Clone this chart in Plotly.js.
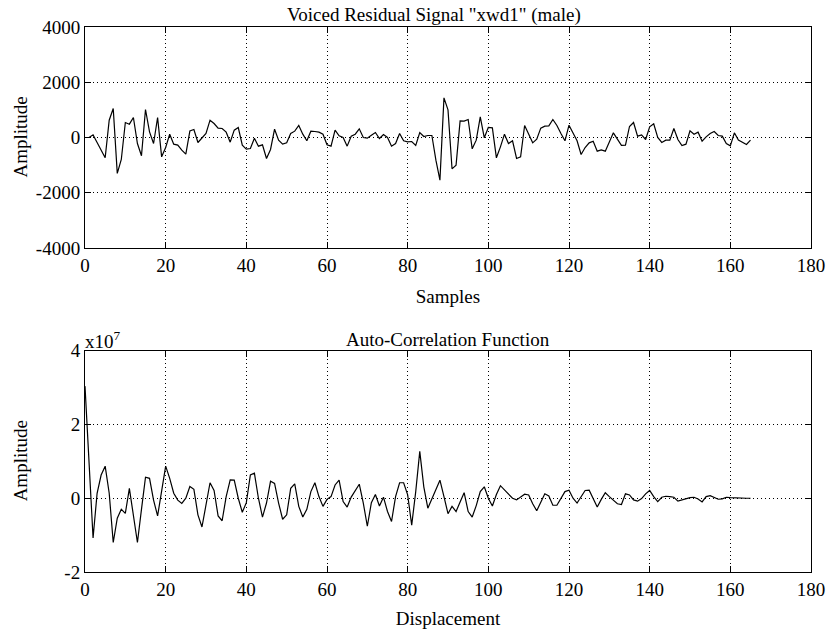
<!DOCTYPE html>
<html>
<head>
<meta charset="utf-8">
<script src="https://cdn.plot.ly/plotly-3.0.1.min.js"></script>
<style>html,body{margin:0;padding:0;background:#fff;}#chart{width:829px;height:636px;}</style>
</head>
<body>
<div id="chart"></div>
<script>
// Voiced residual signal "xwd1" (male), samples 1..165
const signalValues = [
  0, 96, -180, -460, -735, 627, 1050, -1300, -796, 543,
  482, 724, -217, -663, 1013, 205, -217, 724, -700, -362,
  120, -241, -277, -458, -603, 241, 290, -181, 0, 145,
  627, 507, 338, 326, 193, -169, 265, 362, -277, -422,
  -398, -24, -313, -265, -760, -434, 301, -100, -241, -193,
  145, 229, 434, 120, -120, 229, 217, 193, 120, -265,
  -313, 265, 60, 0, -313, 48, 120, 313, 0, -24,
  84, 181, -36, 108, 0, -313, -217, 145, -120, -157,
  -145, -289, 181, 36, 72, 72, -820, -1544, 1435, 1000,
  -1134, -1000, 603, 591, 651, -410, -96, 748, -12, 362,
  350, -735, -338, 120, -217, -120, -760, -700, 434, 120,
  -193, -60, 338, 410, 422, 651, 434, 145, -120, 446,
  145, -120, -615, -362, -193, -133, -494, -446, -494, -157,
  169, -60, -283, -277, 400, 543, 48, 96, -72, 386,
  494, 0, -181, -96, -96, 326, -72, -289, -241, 241,
  120, 193, -133, 24, 145, 217, 72, 48, -217, -301,
  169, -96, -169, -253, -96
];
const sampleIndex = signalValues.map((_, i) => i + 1);

// Auto-correlation function, in units of 10^7, lags 0..165
const acfValues = [
  3.04, 1.0, -1.08, 0.135, 0.63, 0.87, 0.135, -1.2, -0.54, -0.30,
  -0.41, 0.27, -0.45, -1.2, -0.3, 0.57, 0.54, -0.05, -0.48, 0.23,
  0.87, 0.54, 0.135, -0.05, -0.14, 0, 0.32, 0.24, -0.45, -0.78,
  -0.18, 0.42, 0.21, -0.48, -0.61, 0.045, 0.5, 0.49, 0, -0.38,
  -0.12, 0.63, 0.68, 0, -0.51, -0.13, 0.46, 0.40, -0.13, -0.57,
  -0.45, 0.27, 0.39, -0.22, -0.51, -0.30, 0.18, 0.42, 0.045, -0.22,
  -0.03, 0.045, 0.36, 0.49, -0.09, -0.24, 0.03, 0.22, 0.38, -0.13,
  -0.76, -0.12, 0.10, -0.21, 0.03, -0.36, -0.63, 0.045, 0.42, 0.42,
  0.09, -0.73, 0.18, 1.27, 0.31, -0.27, 0, 0.22, 0.49, 0.045,
  -0.42, -0.22, -0.36, -0.1, 0.15, -0.36, -0.51, -0.2, 0.18, 0.31,
  0.0, -0.21, 0.1, 0.34, 0.22, 0.09, 0, -0.045, 0.03, 0.11,
  0.09, -0.15, -0.34, -0.13, 0.12, 0.06, -0.19, -0.19, 0, 0.18,
  0.22, 0, -0.13, 0.045, 0.21, 0.22, 0, -0.24, -0.03, 0.15,
  0.045, -0.045, -0.15, -0.17, 0.12, 0.09, -0.045, -0.08, -0.01, 0.12,
  0.21, 0.045, -0.09, 0.027, 0.054, 0.045, 0.027, -0.08, -0.045, -0.01,
  0.018, 0.027, -0.018, -0.1, 0.045, 0.072, 0.018, -0.027, -0.018, 0.027,
  0.018, 0.01, 0, 0, 0, 0
];
const lagIndex = acfValues.map((_, i) => i);

const xTicks = [0, 20, 40, 60, 80, 100, 120, 140, 160, 180];
const yTicksTop = [-4000, -2000, 0, 2000, 4000];
const yTickTextTop = ['-4000', '-2000', '0', '2000', '4000'];
const yTicksBottom = [-2, 0, 2, 4];
const yTickTextBottom = ['-2', '0', '2', '4'];

const titleTop = 'Voiced Residual Signal "xwd1" (male)';
const titleBottom = 'Auto-Correlation Function';
const xLabelTop = 'Samples';
const xLabelBottom = 'Displacement';
const yLabel = 'Amplitude';

const FAMILY = '"Liberation Serif", "Times New Roman", serif';
const FONT = {family: FAMILY, size: 19, color: '#000'};
const TICKFONT = {family: FAMILY, size: 19, color: '#000'};

function axisStyle(extra) {
  return Object.assign({
    showline: true, linecolor: '#000', linewidth: 1, mirror: 'allticks',
    ticks: 'inside', ticklen: 6, tickcolor: '#000', tickwidth: 1,
    showgrid: true, gridcolor: '#000', gridwidth: 1, griddash: '1px,3px',
    zeroline: false, tickfont: TICKFONT, fixedrange: true
  }, extra);
}

const traces = [
  {x: sampleIndex, y: signalValues, type: 'scatter', mode: 'lines',
   line: {color: '#000', width: 1.2}, xaxis: 'x', yaxis: 'y', hoverinfo: 'skip'},
  {x: lagIndex, y: acfValues, type: 'scatter', mode: 'lines',
   line: {color: '#000', width: 1.2}, xaxis: 'x2', yaxis: 'y2', hoverinfo: 'skip'}
];

const topDomain = [0.5945, 1];
const botDomain = [0, 0.406];

const layout = {
  width: 829, height: 636,
  margin: {l: 85, r: 18, t: 27, b: 64},
  paper_bgcolor: '#fff', plot_bgcolor: '#fff',
  showlegend: false,
  font: FONT,
  xaxis: axisStyle({domain: [0, 1], range: [0, 180], tickvals: xTicks, anchor: 'y',
    title: {text: xLabelTop, font: FONT, standoff: 14}}),
  yaxis: axisStyle({domain: topDomain, range: [-4000, 4000], tickvals: yTicksTop, ticktext: yTickTextTop, anchor: 'x'}),
  xaxis2: axisStyle({domain: [0, 1], range: [0, 180], tickvals: xTicks, anchor: 'y2',
    title: {text: xLabelBottom, font: FONT, standoff: 12}}),
  yaxis2: axisStyle({domain: botDomain, range: [-2, 4], tickvals: yTicksBottom, ticktext: yTickTextBottom, anchor: 'x2'}),
  annotations: [
    {text: titleTop, xref: 'paper', yref: 'paper', x: 0.5, y: topDomain[1], xanchor: 'center', yanchor: 'bottom',
     showarrow: false, font: FONT, yshift: -1, xshift: -14},
    {text: titleBottom, xref: 'paper', yref: 'paper', x: 0.5, y: botDomain[1], xanchor: 'center', yanchor: 'bottom',
     showarrow: false, font: FONT, yshift: -1},
    {text: 'x10<sup>7</sup>', xref: 'paper', yref: 'paper', x: 0, y: botDomain[1], xanchor: 'left', yanchor: 'bottom',
     showarrow: false, font: FONT, yshift: -3, xshift: -2},
    {text: yLabel, xref: 'paper', yref: 'paper', x: 0, y: (topDomain[0] + topDomain[1]) / 2, xanchor: 'center', yanchor: 'middle',
     textangle: -90, showarrow: false, font: FONT, xshift: -65},
    {text: yLabel, xref: 'paper', yref: 'paper', x: 0, y: (botDomain[0] + botDomain[1]) / 2, xanchor: 'center', yanchor: 'middle',
     textangle: -90, showarrow: false, font: FONT, xshift: -65}
  ]
};

Plotly.newPlot('chart', traces, layout, {staticPlot: true, displayModeBar: false});
</script>
</body>
</html>
